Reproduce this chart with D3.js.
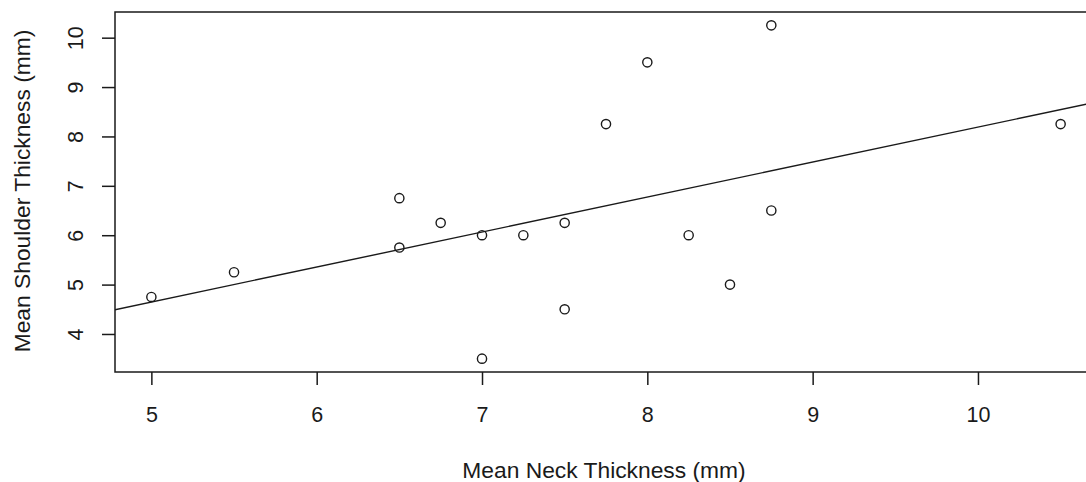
<!DOCTYPE html>
<html>
<head>
<meta charset="utf-8">
<script src="https://d3js.org/d3.v7.min.js"></script>
<style>
  body { margin: 0; background: #fff; }
  svg { display: block; font-family: "Liberation Sans", Arial, sans-serif; }
</style>
</head>
<body>
<svg width="1086" height="482"></svg>
<script>
// Data
var neck     = [5, 5.5, 6.5, 6.5, 6.75, 7, 7, 7.25, 7.5, 7.5, 7.75, 8, 8.25, 8.5, 8.75, 8.75, 10.5];
var shoulder = [4.75, 5.25, 6.75, 5.75, 6.25, 6, 3.5, 6, 6.25, 4.5, 8.25, 9.5, 6, 5, 10.25, 6.5, 8.25];
var xTicks = [5, 6, 7, 8, 9, 10];
var yTicks = [4, 5, 6, 7, 8, 9, 10];
var xLabel = "Mean Neck Thickness (mm)";
var yLabel = "Mean Shoulder Thickness (mm)";

var svg = d3.select("svg"),
    width = +svg.attr("width"),
    height = +svg.attr("height");

// plot region (the right edge runs past the window, as in the original)
var plotL = 115, plotR = 1097, plotT = 12, plotB = 372;

// R style axis ranges: data range padded by 4%
function pad(ext) { var d = (ext[1] - ext[0]) * 0.04; return [ext[0] - d, ext[1] + d]; }

var x = d3.scaleLinear().domain(pad(d3.extent(neck))).range([plotL, plotR]);
var y = d3.scaleLinear().domain(pad(d3.extent(shoulder))).range([plotB, plotT]);

var ink = "#1a1a1a";
var tickFont = 21.5, titleFont = 22.8;

// least squares fit, like abline(lm(shoulder ~ neck))
var mx = d3.mean(neck), my = d3.mean(shoulder);
var sxy = d3.sum(neck, function (v, i) { return (v - mx) * (shoulder[i] - my); });
var sxx = d3.sum(neck, function (v) { return (v - mx) * (v - mx); });
var slope = sxy / sxx, intercept = my - slope * mx;

svg.append("clipPath").attr("id", "plotclip")
  .append("rect")
    .attr("x", plotL).attr("y", plotT)
    .attr("width", plotR - plotL).attr("height", plotB - plotT);

// fitted line
var xd = x.domain();
svg.append("line")
    .attr("clip-path", "url(#plotclip)")
    .attr("x1", x(xd[0])).attr("y1", y(intercept + slope * xd[0]))
    .attr("x2", x(xd[1])).attr("y2", y(intercept + slope * xd[1]))
    .attr("stroke", ink)
    .attr("stroke-width", 1.4);

// points
svg.append("g")
  .selectAll("circle")
  .data(neck)
  .enter().append("circle")
    .attr("cx", function (d) { return x(d); })
    .attr("cy", function (d, i) { return y(shoulder[i]); })
    .attr("r", 4.6)
    .attr("fill", "none")
    .attr("stroke", ink)
    .attr("stroke-width", 1.4);

// box
svg.append("rect")
    .attr("x", plotL).attr("y", plotT)
    .attr("width", plotR - plotL).attr("height", plotB - plotT)
    .attr("fill", "none")
    .attr("stroke", ink)
    .attr("stroke-width", 1.5);

// x axis
var gx = svg.append("g")
    .attr("transform", "translate(0," + plotB + ")")
    .call(d3.axisBottom(x).tickValues(xTicks).tickSize(13).tickPadding(22).tickFormat(d3.format("d")));
gx.select(".domain").remove();
gx.selectAll("line").attr("stroke", ink).attr("stroke-width", 1.5);
gx.selectAll("text")
    .attr("fill", ink)
    .style("font-size", tickFont + "px")
    .style("font-family", "Liberation Sans, Arial, sans-serif");

// y axis, labels parallel to the axis
var gy = svg.append("g")
    .attr("transform", "translate(" + plotL + ",0)")
    .call(d3.axisLeft(y).tickValues(yTicks).tickSize(13).tickFormat(d3.format("d")));
gy.select(".domain").remove();
gy.selectAll("line").attr("stroke", ink).attr("stroke-width", 1.5);
gy.selectAll("text")
    .attr("fill", ink)
    .attr("text-anchor", "middle")
    .attr("transform", "rotate(-90)")
    .attr("x", 0)
    .attr("y", -40)
    .attr("dy", "0.35em")
    .style("font-size", tickFont + "px")
    .style("font-family", "Liberation Sans, Arial, sans-serif");

// axis titles
svg.append("text")
    .attr("x", (plotL + plotR) / 2 - 2)
    .attr("y", 470)
    .attr("dy", "0.35em")
    .attr("text-anchor", "middle")
    .attr("fill", ink)
    .style("font-size", titleFont + "px")
    .text(xLabel);

svg.append("text")
    .attr("transform", "translate(22," + ((plotT + plotB) / 2 - 1) + ") rotate(-90)")
    .attr("dy", "0.35em")
    .attr("text-anchor", "middle")
    .attr("fill", ink)
    .style("font-size", titleFont + "px")
    .text(yLabel);
</script>
</body>
</html>
